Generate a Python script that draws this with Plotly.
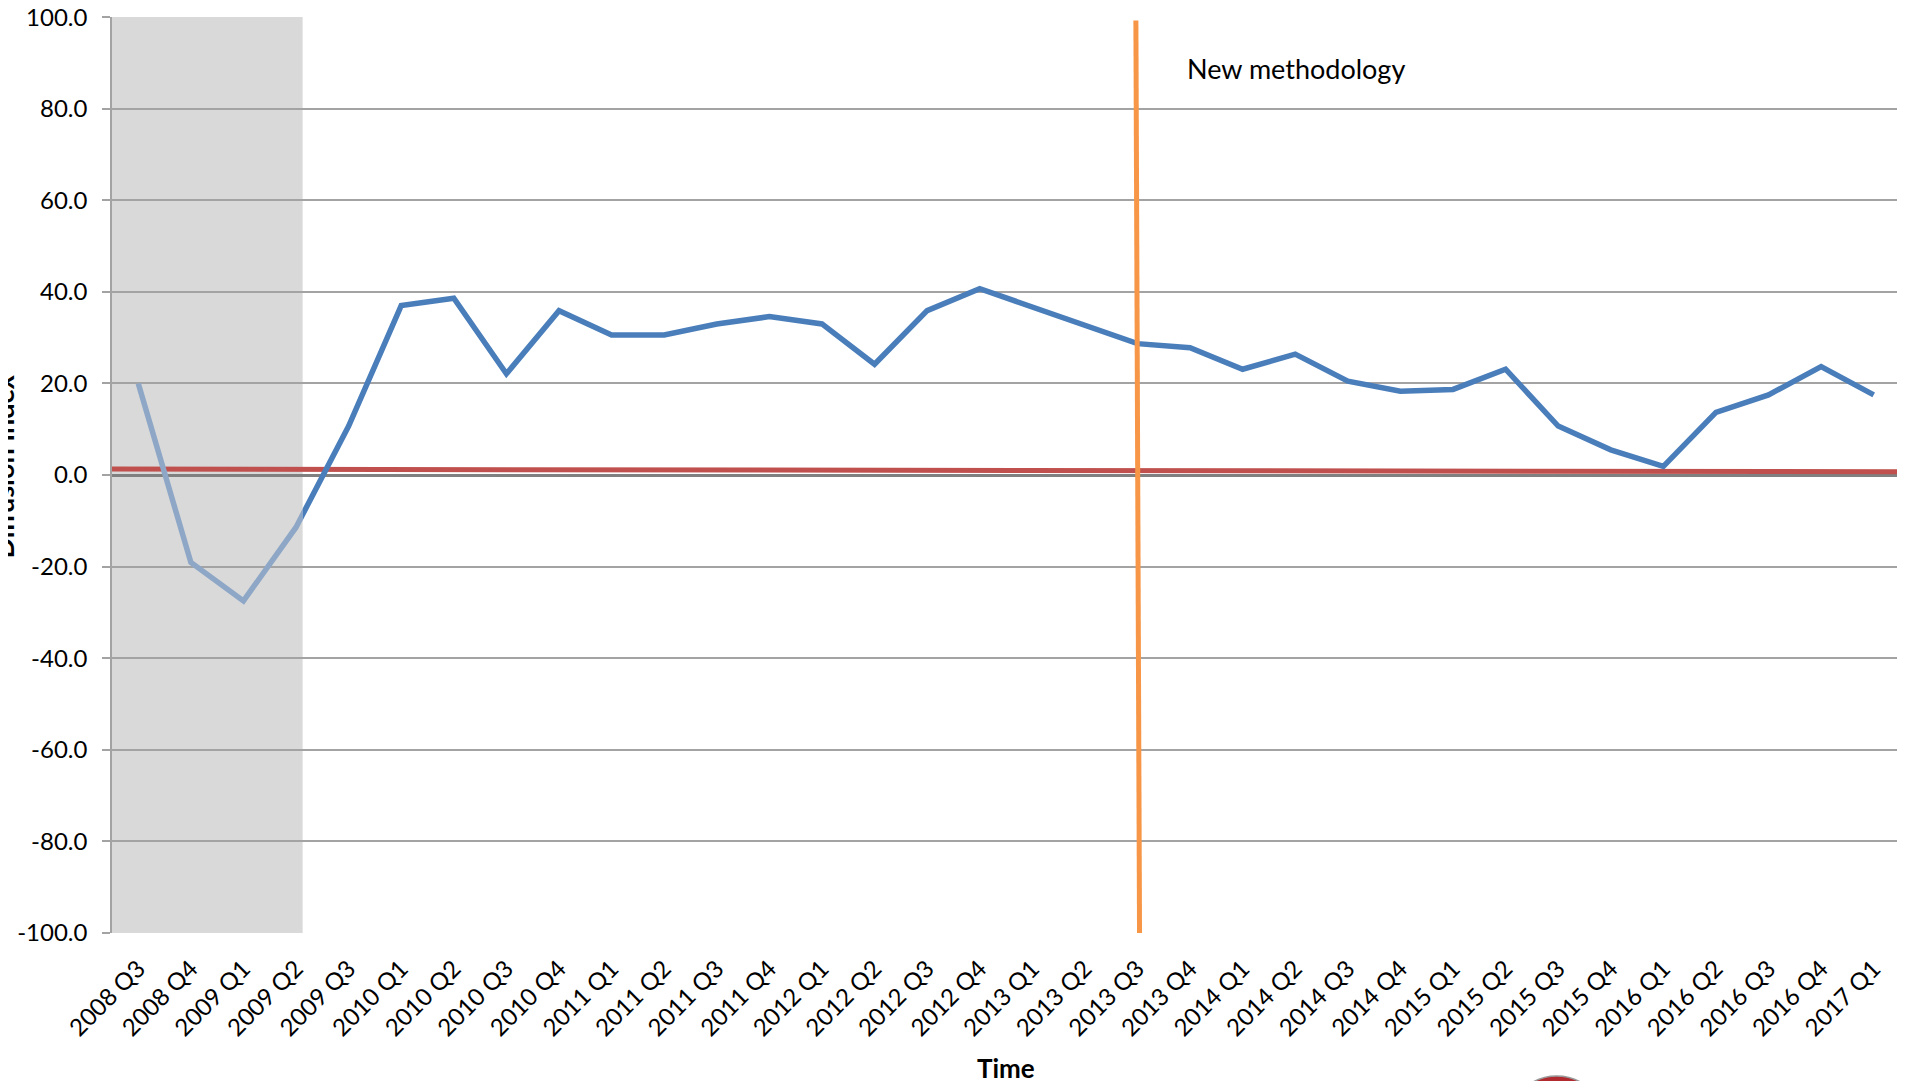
import plotly.graph_objects as go

# ---------------- data ----------------
quarters = ["2008 Q3", "2008 Q4", "2009 Q1", "2009 Q2", "2009 Q3",
            "2010 Q1", "2010 Q2", "2010 Q3", "2010 Q4",
            "2011 Q1", "2011 Q2", "2011 Q3", "2011 Q4",
            "2012 Q1", "2012 Q2", "2012 Q3", "2012 Q4",
            "2013 Q1", "2013 Q2", "2013 Q3", "2013 Q4",
            "2014 Q1", "2014 Q2", "2014 Q3", "2014 Q4",
            "2015 Q1", "2015 Q2", "2015 Q3", "2015 Q4",
            "2016 Q1", "2016 Q2", "2016 Q3", "2016 Q4",
            "2017 Q1"]

diffusion_index = [20.0, -19.1, -27.5, -11.4, 10.7,
                   37.0, 38.6, 22.1, 35.9,
                   30.6, 30.6, 33.0, 34.6,
                   33.0, 24.2, 35.9, 40.7,
                   None, None, 28.7, 27.8,
                   23.1, 26.4, 20.5, 18.3,
                   18.7, 23.1, 10.7, 5.5,
                   1.9, 13.7, 17.5, 23.7,
                   17.5]

# near-flat red reference line: value at left and right edge of the chart
reference_line_values = [1.3, 0.7]

y_tick_values = [-100, -80, -60, -40, -20, 0, 20, 40, 60, 80, 100]
y_tick_labels = ["-100.0", "-80.0", "-60.0", "-40.0", "-20.0", "0.0",
                 "20.0", "40.0", "60.0", "80.0", "100.0"]

recession_quarters = ["2008 Q3", "2009 Q2"]
methodology_change = "2013 Q3"
methodology_label = "New methodology"

# ---------------- derived positions ----------------
n = len(quarters)
x_idx = list(range(n))
x_lo, x_hi = -0.5, n - 0.5
y_lo, y_hi = -100.05, 100.05
shade_x0 = quarters.index(recession_quarters[0]) - 0.5
shade_x1 = quarters.index(recession_quarters[1]) + 0.125
split = (shade_x1 - x_lo) / (x_hi - x_lo)
meth_x = quarters.index(methodology_change)

BLUE = "#4A7EBB"
BLUE_LIGHT = "#8EA7C6"
RED = "#C0504D"
ORANGE = "#F79646"
GRID = "#A3A3A3"
FONT = "Lato"

fig = go.Figure()

# red reference line (main subplot)
fig.add_trace(go.Scatter(x=[x_lo, x_hi], y=reference_line_values, mode="lines",
                         line=dict(color=RED, width=5), hoverinfo="skip",
                         showlegend=False, xaxis="x", yaxis="y"))
# light part of index (inside the shaded period)
fig.add_trace(go.Scatter(x=x_idx, y=diffusion_index, mode="lines",
                         line=dict(color=BLUE_LIGHT, width=5.5), connectgaps=True,
                         showlegend=False, xaxis="x2", yaxis="y2"))
# dark part of index
fig.add_trace(go.Scatter(x=x_idx, y=diffusion_index, mode="lines",
                         line=dict(color=BLUE, width=5.5), connectgaps=True,
                         showlegend=False, xaxis="x3", yaxis="y3"))

fig.update_layout(
    width=1897, height=1073,
    margin=dict(l=104, r=5, t=9, b=148, autoexpand=False),
    paper_bgcolor="white", plot_bgcolor="rgba(0,0,0,0)",
    font=dict(family=FONT, color="black", size=24),
    showlegend=False,
    xaxis=dict(domain=[0, 1], range=[x_lo, x_hi], tickmode="array",
               tickvals=x_idx, ticktext=quarters, tickangle=-45,
               showgrid=False, zeroline=False, showline=False, ticks="",
               tickfont=dict(size=24), ticklabelstandoff=16,
               ticklabeloverflow="allow", automargin=False),
    yaxis=dict(domain=[0, 1], range=[y_lo, y_hi], tickmode="array",
               tickvals=y_tick_values, ticktext=y_tick_labels,
               showgrid=True, gridcolor=GRID, gridwidth=1.5,
               zeroline=True, zerolinecolor="#808080", zerolinewidth=2.5,
               showline=True, linecolor=GRID, linewidth=1.5,
               ticks="outside", ticklen=8, tickcolor=GRID, tickwidth=1.5,
               tickfont=dict(size=24), ticklabelstandoff=10,
               ticklabeloverflow="allow", automargin=False),
    xaxis2=dict(domain=[0, split], range=[x_lo, shade_x1], visible=False,
                anchor="y2", fixedrange=True, automargin=False),
    yaxis2=dict(domain=[0, 1], range=[y_lo, y_hi], visible=False, anchor="x2",
                automargin=False),
    xaxis3=dict(domain=[split, 1], range=[shade_x1, x_hi], visible=False,
                anchor="y3", fixedrange=True, automargin=False),
    yaxis3=dict(domain=[0, 1], range=[y_lo, y_hi], visible=False, anchor="x3",
                automargin=False),
)

# shaded period
fig.add_shape(type="rect", xref="x", yref="y", x0=shade_x0, x1=shade_x1,
              y0=-100.5, y1=100.5, fillcolor="#D9D9D9", line=dict(width=0),
              layer="below")
# methodology change line
fig.add_shape(type="line", xref="x", yref="y", x0=meth_x - 0.03, x1=meth_x + 0.04,
              y0=99.3, y1=-102.0, line=dict(color=ORANGE, width=5), layer="above")

# logo (partly cut off at bottom)
fig.add_shape(type="circle", xref="paper", yref="paper",
              x0=0.781, x1=0.835, y0=-0.262, y1=-0.156,
              fillcolor="#B02A2F", line=dict(color="#9A9A9A", width=1.5),
              layer="above")

fig.add_annotation(text=methodology_label, xref="paper", yref="paper",
                   x=0.600, y=0.9435, xanchor="left", yanchor="middle",
                   showarrow=False, font=dict(size=27, family=FONT))
fig.add_annotation(text="<b>Diffusion Index</b>", xref="paper", yref="paper",
                   x=-0.0605, y=0.509, xanchor="center", yanchor="middle",
                   textangle=-90, showarrow=False, font=dict(size=27, family=FONT))
fig.add_annotation(text="<b>Time</b>", xref="paper", yref="paper",
                   x=0.5, y=-0.147, xanchor="center", yanchor="middle",
                   showarrow=False, font=dict(size=26, family=FONT))

fig.write_html("out.html")
